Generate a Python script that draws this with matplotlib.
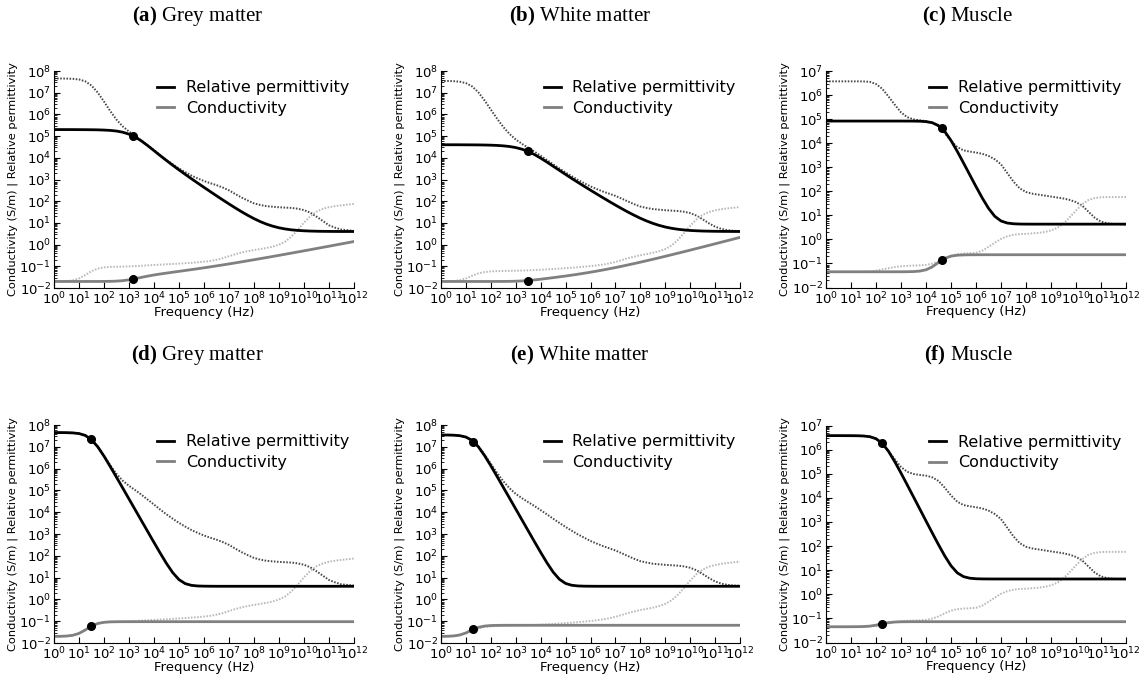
import numpy as np
import matplotlib
matplotlib.use('Agg')
import matplotlib.pyplot as plt
from matplotlib.ticker import LogLocator, NullLocator

plt.rcParams['mathtext.fontset'] = 'custom'
plt.rcParams['mathtext.rm'] = 'Liberation Serif'
plt.rcParams['mathtext.bf'] = 'Liberation Serif:bold'

# frequency grid, log10(Hz), quarter-decade steps from 1 Hz to 1 THz
log_freq = np.arange(0, 12.25, 0.25)

# dotted reference curves (multi-pole tissue model), log10 values
gm_eps_ref = [7.655, 7.655, 7.650, 7.640, 7.610, 7.525, 7.330, 7.007, 6.590, 6.155, 5.757, 5.445,
              5.210, 5.012, 4.800, 4.574, 4.350, 4.120, 3.900, 3.700, 3.510, 3.340, 3.180, 3.050,
              2.930, 2.830, 2.740, 2.630, 2.500, 2.330, 2.170, 2.030, 1.900, 1.825, 1.770, 1.745,
              1.720, 1.705, 1.690, 1.653, 1.590, 1.474, 1.290, 1.090, 0.890, 0.778, 0.690, 0.663,
              0.630]
gm_sig_ref = [-1.697, -1.693, -1.682, -1.647, -1.560, -1.403, -1.225, -1.105, -1.050, -1.030,
              -1.021, -1.015, -1.005, -0.991, -0.975, -0.957, -0.940, -0.924, -0.907, -0.892,
              -0.874, -0.857, -0.836, -0.815, -0.787, -0.753, -0.700, -0.628, -0.535, -0.443,
              -0.366, -0.304, -0.252, -0.205, -0.155, -0.094, -0.006, 0.139, 0.371, 0.680,
              1.013, 1.306, 1.517, 1.647, 1.725, 1.776, 1.810, 1.846, 1.875]
wm_eps_ref = [7.543, 7.540, 7.531, 7.507, 7.441, 7.290, 7.016, 6.642, 6.222, 5.804, 5.420, 5.098,
              4.843, 4.642, 4.462, 4.284, 4.096, 3.900, 3.704, 3.510, 3.324, 3.150, 2.977, 2.830,
              2.681, 2.560, 2.446, 2.345, 2.245, 2.120, 1.990, 1.865, 1.754, 1.690, 1.637, 1.610,
              1.586, 1.567, 1.548, 1.514, 1.453, 1.338, 1.169, 0.982, 0.826, 0.724, 0.667, 0.636,
              0.622]
wm_sig_ref = [-1.697, -1.692, -1.678, -1.641, -1.558, -1.436, -1.327, -1.264, -1.236, -1.223,
              -1.215, -1.210, -1.203, -1.196, -1.186, -1.173, -1.158, -1.141, -1.124, -1.106,
              -1.087, -1.066, -1.043, -1.018, -0.990, -0.958, -0.920, -0.865, -0.800, -0.715,
              -0.624, -0.556, -0.490, -0.437, -0.379, -0.308, -0.207, -0.044, 0.205, 0.525,
              0.863, 1.158, 1.370, 1.501, 1.579, 1.631, 1.668, 1.701, 1.730]
mu_eps_ref = [6.57, 6.57, 6.57, 6.57, 6.57, 6.57, 6.565, 6.55, 6.46, 6.26, 5.94, 5.60, 5.28, 5.08,
              4.99, 4.95, 4.92, 4.85, 4.70, 4.42, 4.10, 3.84, 3.70, 3.65, 3.61, 3.56, 3.47, 3.33,
              3.12, 2.76, 2.40, 2.12, 1.97, 1.90, 1.86, 1.82, 1.78, 1.74, 1.70, 1.64, 1.55, 1.40,
              1.15, 0.90, 0.74, 0.67, 0.64, 0.63, 0.62]
mu_sig_ref = [-1.35, -1.35, -1.35, -1.35, -1.35, -1.35, -1.34, -1.33, -1.30, -1.25, -1.20, -1.15,
              -1.12, -1.10, -1.09, -1.08, -1.06, -1.01, -0.92, -0.79, -0.68, -0.62, -0.59, -0.58,
              -0.56, -0.47, -0.31, -0.14, 0.02, 0.13, 0.19, 0.22, 0.23, 0.25, 0.27, 0.31, 0.37,
              0.48, 0.66, 0.92, 1.20, 1.46, 1.64, 1.72, 1.75, 1.76, 1.76, 1.76, 1.76]

# solid single-pole fits, log10 values
a_eps = [5.301, 5.301, 5.300, 5.300, 5.298, 5.296, 5.293, 5.288, 5.278, 5.262, 5.233, 5.179,
         5.090, 4.955, 4.773, 4.559, 4.330, 4.099, 3.874, 3.655, 3.443, 3.237, 3.033, 2.835,
         2.638, 2.443, 2.250, 2.060, 1.874, 1.692, 1.516, 1.350, 1.197, 1.060, 0.943, 0.849,
         0.774, 0.720, 0.680, 0.654, 0.636, 0.624, 0.616, 0.611, 0.608, 0.606, 0.604, 0.604, 0.603]
a_sig = [-1.699, -1.699, -1.699, -1.699, -1.699, -1.699, -1.699, -1.698, -1.696, -1.693, -1.683,
         -1.662, -1.624, -1.570, -1.509, -1.452, -1.400, -1.355, -1.313, -1.272, -1.233, -1.193,
         -1.152, -1.111, -1.069, -1.026, -0.981, -0.936, -0.890, -0.843, -0.795, -0.746, -0.697,
         -0.647, -0.597, -0.546, -0.495, -0.443, -0.391, -0.339, -0.287, -0.234, -0.180, -0.127,
         -0.074, -0.020, 0.034, 0.088, 0.142]
b_eps = [4.601, 4.601, 4.601, 4.600, 4.598, 4.596, 4.594, 4.589, 4.582, 4.570, 4.551, 4.520,
         4.471, 4.397, 4.290, 4.151, 3.985, 3.803, 3.613, 3.423, 3.234, 3.047, 2.865, 2.686,
         2.508, 2.333, 2.160, 1.989, 1.822, 1.659, 1.502, 1.354, 1.215, 1.090, 0.980, 0.887,
         0.811, 0.752, 0.708, 0.676, 0.652, 0.637, 0.625, 0.618, 0.613, 0.609, 0.607, 0.605, 0.604]
b_sig = [-1.699] * 9 + [-1.698, -1.697, -1.694, -1.687, -1.675, -1.655, -1.627, -1.595, -1.560,
         -1.524, -1.486, -1.448, -1.407, -1.364, -1.319, -1.272, -1.222, -1.170, -1.115, -1.058,
         -0.999, -0.937, -0.875, -0.810, -0.744, -0.677, -0.609, -0.539, -0.469, -0.398, -0.327,
         -0.255, -0.182, -0.110, -0.036, 0.037, 0.111, 0.184, 0.259, 0.333]
c_eps = [4.919] * 11 + [4.919, 4.919, 4.918, 4.917, 4.912, 4.896, 4.850, 4.731, 4.486, 4.112,
         3.661, 3.178, 2.686, 2.196, 1.722, 1.293, 0.961, 0.766, 0.680, 0.649, 0.638, 0.635,
         0.634] + [0.634] * 15
c_sig = [-1.347] * 11 + [-1.347, -1.346, -1.344, -1.337, -1.318, -1.264, -1.142, -0.959, -0.791,
         -0.696, -0.658, -0.645, -0.640, -0.639] + [-0.638] * 24
d_eps = [7.653, 7.652, 7.648, 7.638, 7.607, 7.522, 7.329, 6.999, 6.570, 6.095, 5.603, 5.106,
         4.607, 4.107, 3.608, 3.109, 2.611, 2.121, 1.648, 1.225, 0.906, 0.723, 0.644, 0.616,
         0.607, 0.604] + [0.602] * 23
d_sig = [-1.697, -1.693, -1.681, -1.647, -1.560, -1.403, -1.225, -1.105, -1.051, -1.031, -1.025,
         -1.023] + [-1.022] * 37
e_eps = [7.543, 7.541, 7.533, 7.511, 7.447, 7.291, 7.000, 6.594, 6.129, 5.641, 5.144, 4.646,
         4.146, 3.646, 3.147, 2.650, 2.158, 1.684, 1.255, 0.926, 0.732, 0.648, 0.617, 0.607,
         0.604] + [0.602] * 24
e_sig = [-1.697, -1.691, -1.676, -1.633, -1.538, -1.399, -1.283, -1.222, -1.199, -1.191,
         -1.188] + [-1.187] * 38
f_eps = [6.580, 6.580, 6.580, 6.579, 6.578, 6.575, 6.565, 6.535, 6.451, 6.258, 5.930, 5.502,
         5.028, 4.536, 4.039, 3.540, 3.041, 2.545, 2.057, 1.591, 1.184, 0.890, 0.732, 0.667,
         0.644, 0.637, 0.635] + [0.634] * 22
f_sig = [-1.347, -1.347, -1.347, -1.347, -1.346, -1.344, -1.338, -1.321, -1.282, -1.224, -1.176,
         -1.151, -1.141, -1.138] + [-1.137] * 35

# relaxation points: (log10 f, log10 eps, log10 sigma)
dots = {'a': (3.176, 5.000, -1.587), 'b': (3.477, 4.301, -1.657), 'c': (4.633, 4.618, -0.862),
        'd': (1.477, 7.352, -1.240), 'e': (1.301, 7.243, -1.372), 'f': (2.230, 6.279, -1.229)}

titles = {'a': 'Grey matter', 'b': 'White matter', 'c': 'Muscle',
          'd': 'Grey matter', 'e': 'White matter', 'f': 'Muscle'}

W, H = 1147, 682
fig = plt.figure(figsize=(W / 100, H / 100), dpi=100)

# axes boxes in pixels: left, top, right, bottom
boxes = {'a': (54, 71, 354, 288), 'b': (441, 71, 740, 288), 'c': (826, 71, 1126, 287.5),
         'd': (54, 425, 354, 643), 'e': (441, 425, 740, 643), 'f': (826, 425.5, 1126, 642.5)}
title_pos = {'a': (197.5, 16), 'b': (580, 16), 'c': (968, 16),
             'd': (197.5, 355), 'e': (580, 355), 'f': (968, 355)}

panels = [('a', gm_eps_ref, gm_sig_ref, a_eps, a_sig, 8),
          ('b', wm_eps_ref, wm_sig_ref, b_eps, b_sig, 8),
          ('c', mu_eps_ref, mu_sig_ref, c_eps, c_sig, 7),
          ('d', gm_eps_ref, gm_sig_ref, d_eps, d_sig, 8),
          ('e', wm_eps_ref, wm_sig_ref, e_eps, e_sig, 8),
          ('f', mu_eps_ref, mu_sig_ref, f_eps, f_sig, 7)]

freq = 10.0 ** log_freq
for key, eps_ref, sig_ref, eps_fit, sig_fit, ytop in panels:
    l, t, r, b = boxes[key]
    ax = fig.add_axes([l / W, 1 - b / H, (r - l) / W, (b - t) / H])

    ax.plot(freq, 10.0 ** np.array(eps_ref), color='0.28', lw=1.4, ls=(0, (0.8, 0.8)), zorder=1)
    ax.plot(freq, 10.0 ** np.array(sig_ref), color='0.72', lw=1.4, ls=(0, (0.8, 0.8)), zorder=1)
    l1, = ax.plot(freq, 10.0 ** np.array(eps_fit), color='black', lw=2, zorder=3,
                  label='Relative permittivity')
    l2, = ax.plot(freq, 10.0 ** np.array(sig_fit), color='#808080', lw=2, zorder=2,
                  label='Conductivity')
    fx, fe, fs = dots[key]
    ax.plot([10 ** fx, 10 ** fx], [10 ** fe, 10 ** fs], 'o', color='black', ms=5.5,
            ls='none', zorder=5)

    ax.set_xscale('log')
    ax.set_yscale('log')
    ax.set_xlim(1, 1e12)
    ax.set_ylim(1e-2, 10.0 ** ytop)
    ax.xaxis.set_major_locator(LogLocator(base=10, numticks=30))
    ax.xaxis.set_minor_locator(NullLocator())
    ax.yaxis.set_major_locator(LogLocator(base=10, numticks=30))
    ax.yaxis.set_minor_locator(LogLocator(base=10, subs=np.arange(2, 10), numticks=100))
    for s in ('top', 'right'):
        ax.spines[s].set_visible(False)
    ax.tick_params(which='both', direction='in', top=False, right=False, labelsize=9.5)
    ax.tick_params(which='major', length=4, pad=2)
    ax.tick_params(which='minor', length=2)
    ax.set_xlabel('Frequency (Hz)', fontsize=9.5, labelpad=-1)
    ax.set_ylabel('Conductivity (S/m) | Relative permittivity', fontsize=8.2, labelpad=1)

    ax.legend(handles=[l1, l2], loc='upper left', bbox_to_anchor=(0.343, 0.957), frameon=False,
              fontsize=11.5, handlelength=1.1, handletextpad=0.7, borderpad=0,
              borderaxespad=0, labelspacing=0.33)

    tx, ty = title_pos[key]
    fig.text(tx / W, 1 - ty / H, r'$\mathbf{(%s)}$ %s' % (key, titles[key]),
             family='Liberation Serif', fontsize=15, ha='center', va='center')

fig.savefig('out.png', dpi=100)
